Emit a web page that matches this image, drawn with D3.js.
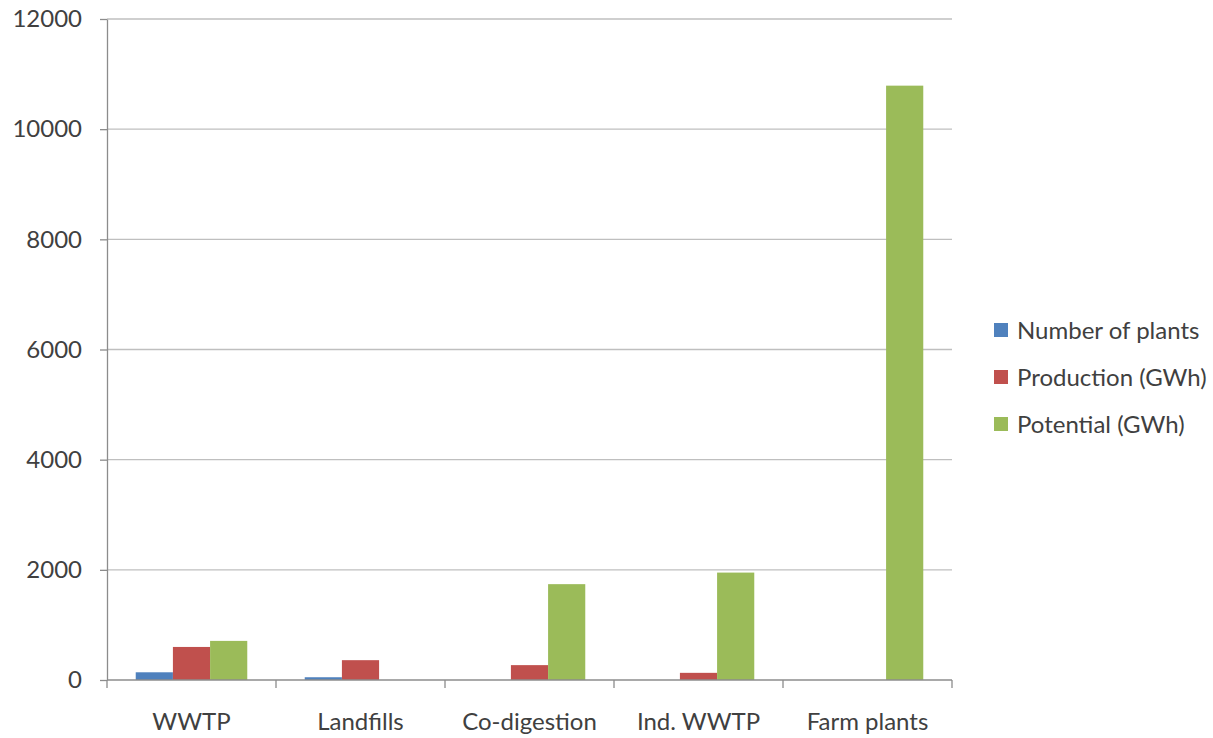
<!DOCTYPE html>
<html>
<head>
<meta charset="utf-8">
<script src="https://cdn.jsdelivr.net/npm/d3@7"></script>
<style>
  html, body { margin: 0; padding: 0; background: #fff; }
  svg text { font-family: Lato, "Open Sans", sans-serif; fill: #404040; }
</style>
</head>
<body>
<svg id="chart" width="1213" height="738"></svg>
<script>
// Biogas sectors and their figures
const categories = ["WWTP", "Landfills", "Co-digestion", "Ind. WWTP", "Farm plants"];
const seriesNames = ["Number of plants", "Production (GWh)", "Potential (GWh)"];
const numberOfPlants = [140, 50, 0, 0, 0];
const production = [600, 360, 270, 130, 0];
const potential = [710, 0, 1740, 1950, 10790];
const yTicks = [0, 2000, 4000, 6000, 8000, 10000, 12000];
const colors = ["#4F81BD", "#C0504D", "#9BBB59"];

const series = [numberOfPlants, production, potential];
const FS = 24;

const svg = d3.select("#chart");
const margin = { left: 107, right: 261, top: 19, bottom: 58 };
const W = 1213, H = 738;
const x0 = margin.left, x1 = W - margin.right;
const y0 = H - margin.bottom, y1 = margin.top;

const x = d3.scaleBand().domain(categories).range([x0, x1]).padding(0);
const groupW = x.bandwidth() * 0.66;
const xs = d3.scaleBand().domain(d3.range(series.length))
  .range([(x.bandwidth() - groupW) / 2, (x.bandwidth() + groupW) / 2]).padding(0);
const y = d3.scaleLinear().domain([0, 12000]).range([y0, y1]);

// Horizontal gridlines
svg.append("g")
  .selectAll("line")
  .data(yTicks.filter(d => d > 0))
  .join("line")
  .attr("x1", x0).attr("x2", x1)
  .attr("y1", d => y(d)).attr("y2", d => y(d))
  .attr("stroke", "#bfbfbf").attr("stroke-width", 1.3);

// Bars
categories.forEach((c, ci) => {
  svg.append("g")
    .attr("transform", `translate(${x(c)},0)`)
    .selectAll("rect")
    .data(series.map((s, si) => ({ si, v: s[ci] })).filter(d => d.v > 0))
    .join("rect")
    .attr("x", d => xs(d.si))
    .attr("width", xs.bandwidth())
    .attr("y", d => y(d.v))
    .attr("height", d => y0 - y(d.v))
    .attr("fill", d => colors[d.si]);
});

// Y axis
const yAxis = svg.append("g")
  .attr("transform", `translate(${x0},0)`)
  .call(d3.axisLeft(y).tickValues(yTicks).tickFormat(d3.format("d"))
    .tickSize(7).tickPadding(18).tickSizeOuter(0));
yAxis.select(".domain").attr("stroke", "#8c8c8c").attr("stroke-width", 1.3);
yAxis.selectAll(".tick line").attr("stroke", "#8c8c8c").attr("stroke-width", 1.3);
yAxis.selectAll(".tick text").attr("font-size", FS).attr("fill", "#404040")
  .style("font-family", "Lato, 'Open Sans', sans-serif");

// X axis with ticks at category boundaries
const xAxisG = svg.append("g").attr("transform", `translate(0,${y0})`);
xAxisG.append("line").attr("x1", x0).attr("x2", x1)
  .attr("stroke", "#8c8c8c").attr("stroke-width", 1.3);
xAxisG.selectAll("line.tk")
  .data(categories.map(c => x(c)).concat([x1]))
  .join("line").attr("class", "tk")
  .attr("x1", d => d).attr("x2", d => d).attr("y1", 0).attr("y2", 8)
  .attr("stroke", "#8c8c8c").attr("stroke-width", 1.3);
xAxisG.selectAll("text")
  .data(categories)
  .join("text")
  .attr("x", d => x(d) + x.bandwidth() / 2)
  .attr("y", 50)
  .attr("text-anchor", "middle")
  .attr("font-size", FS)
  .text(d => d);

// Legend
const legend = svg.append("g").attr("transform", "translate(994,330)");
seriesNames.forEach((n, i) => {
  const g = legend.append("g").attr("transform", `translate(0,${i * 47})`);
  g.append("rect").attr("x", 0).attr("y", -7).attr("width", 14).attr("height", 14)
    .attr("fill", colors[i]);
  g.append("text").attr("x", 23).attr("y", 8.5).attr("font-size", FS).text(n);
});
</script>
</body>
</html>
